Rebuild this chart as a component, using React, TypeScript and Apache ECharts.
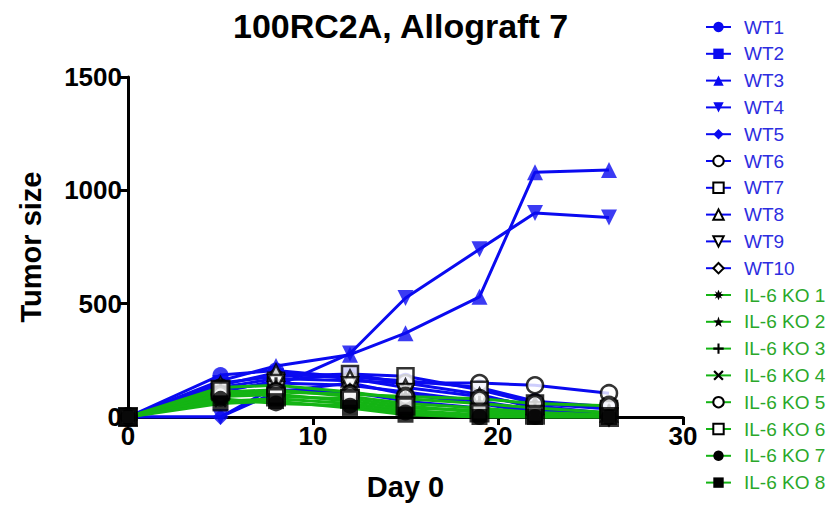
import { useEffect, useRef } from "react";
import * as echarts from "echarts";

// Measurement days
const days = [0, 5, 8, 12, 15, 19, 22, 26];

// Wild-type animals
const wt1 = [0, 185, 205, 175, 160, 130, 70, 45];
const wt2 = [0, 150, 180, 190, 150, 100, 40, 10];
const wt3 = [0, 160, 225, 275, 370, 530, 1080, 1090];
const wt4 = [0, 0, 135, 280, 525, 740, 900, 880];
const wt5 = [0, 0, 110, 150, 100, 60, 20, 0];
const wt6 = [0, 130, 170, 160, 150, 150, 140, 105];
const wt7 = [0, 110, 160, 190, 180, 120, 60, 35];
const wt8 = [0, 140, 195, 170, 130, 90, 50, 15];
const wt9 = [0, 120, 150, 140, 110, 70, 30, 0];
const wt10 = [0, 95, 120, 110, 70, 40, 10, 0];

// IL-6 knockout animals
const ko1 = [0, 110, 120, 90, 60, 40, 20, 10];
const ko2 = [0, 90, 100, 70, 40, 30, 15, 5];
const ko3 = [0, 130, 140, 110, 80, 60, 40, 20];
const ko4 = [0, 70, 80, 60, 30, 10, 0, 0];
const ko5 = [0, 100, 110, 100, 90, 80, 60, 50];
const ko6 = [0, 120, 90, 80, 50, 20, 10, 0];
const ko7 = [0, 80, 60, 50, 20, 0, 0, 0];
const ko8 = [0, 60, 70, 40, 10, 0, 0, 0];

const seriesNames = [
  "WT1", "WT2", "WT3", "WT4", "WT5", "WT6", "WT7", "WT8", "WT9", "WT10",
  "IL-6 KO 1", "IL-6 KO 2", "IL-6 KO 3", "IL-6 KO 4",
  "IL-6 KO 5", "IL-6 KO 6", "IL-6 KO 7", "IL-6 KO 8",
];
const seriesValues = [
  wt1, wt2, wt3, wt4, wt5, wt6, wt7, wt8, wt9, wt10,
  ko1, ko2, ko3, ko4, ko5, ko6, ko7, ko8,
];

const xTicks = { min: 0, max: 30, interval: 10 };
const yTicks = { min: 0, max: 1500, interval: 500 };

const BLUE = "#0a0af0";
const GREEN = "#14b414";
const BLUE_TEXT = "#2d2de0";
const GREEN_TEXT = "#2aa82a";
const FONT = 'Arial, "Liberation Sans", sans-serif';

const STAR8 =
  "path://M5,0 L6.2,2.8 L8.5,1.5 L7.2,3.8 L10,5 L7.2,6.2 L8.5,8.5 L6.2,7.2 L5,10 L3.8,7.2 L1.5,8.5 L2.8,6.2 L0,5 L2.8,3.8 L1.5,1.5 L3.8,2.8 Z";
const STAR5 =
  "path://M5,0 L6.2,3.5 L10,3.8 L7,6.2 L8.1,10 L5,7.8 L1.9,10 L3,6.2 L0,3.8 L3.8,3.5 Z";
const PLUS =
  "path://M4,0 L6,0 L6,4 L10,4 L10,6 L6,6 L6,10 L4,10 L4,6 L0,6 L0,4 L4,4 Z";
const CROSS =
  "path://M1.5,0 L5,3.5 L8.5,0 L10,1.5 L6.5,5 L10,8.5 L8.5,10 L5,6.5 L1.5,10 L0,8.5 L3.5,5 L0,1.5 Z";

type Marker = {
  symbol: string;
  rotate?: number;
  fill: string;
  border?: string;
  borderWidth?: number;
  size?: number;
};

const filledBlue = (symbol: string, rotate = 0): Marker => ({ symbol, rotate, fill: BLUE });
const open = (symbol: string, rotate = 0, bw = 2.5): Marker => ({
  symbol, rotate, fill: "#ffffff", border: "#000000", borderWidth: bw,
});
const solid = (symbol: string, size?: number): Marker => ({ symbol, fill: "#000000", size });

const markers: Marker[] = [
  filledBlue("circle"),
  filledBlue("rect"),
  filledBlue("triangle"),
  filledBlue("triangle", 180),
  filledBlue("diamond"),
  open("circle"),
  open("rect"),
  open("triangle"),
  open("triangle", 180),
  open("diamond"),
  solid(STAR8),
  solid(STAR5, 12),
  solid(PLUS),
  solid(CROSS, 13),
  open("circle", 0, 4),
  open("rect", 0, 4),
  solid("circle"),
  solid("rect"),
];

export default function App() {
  const ref = useRef<HTMLDivElement>(null);

  useEffect(() => {
    if (!ref.current) return;
    const chart = echarts.init(ref.current, undefined, { renderer: "svg" });

    const lines: any[] = [];
    const points: any[] = [];
    seriesNames.forEach((name, i) => {
      const isWT = i < 10;
      const m = markers[i];
      const data = days.map((d, j) => [d, seriesValues[i][j]]);
      const itemStyle: any = { color: m.fill };
      if (m.border) {
        itemStyle.borderColor = m.border;
        itemStyle.borderWidth = m.borderWidth;
      }
      const size = m.size ?? 16;
      lines.push({
        type: "line",
        name,
        data,
        symbol: m.symbol,
        symbolSize: size,
        symbolRotate: m.rotate ?? 0,
        showSymbol: false,
        lineStyle: { color: isWT ? BLUE : GREEN, width: 3 },
        itemStyle,
        z: 2,
      });
      points.push({
        type: "scatter",
        name,
        data,
        symbol: m.symbol,
        symbolSize: size,
        symbolRotate: m.rotate ?? 0,
        itemStyle,
        z: 3,
      });
    });

    chart.setOption({
      animation: false,
      title: {
        text: "100RC2A, Allograft 7",
        left: 228,
        top: 4,
        textStyle: { fontFamily: FONT, fontSize: 34, fontWeight: "bold", color: "#000" },
      },
      legend: {
        orient: "vertical",
        left: 705,
        top: 17,
        padding: 0,
        itemWidth: 25,
        itemHeight: 13,
        itemGap: 6.8,
        selectedMode: false,
        textStyle: { fontFamily: FONT, fontSize: 19, lineHeight: 20, padding: [0, 0, 0, 8] },
        data: seriesNames.map((name, i) => ({
          name,
          textStyle: { color: i < 10 ? BLUE_TEXT : GREEN_TEXT },
        })),
      },
      grid: { left: 128, right: 149, top: 77, bottom: 83, containLabel: false },
      xAxis: {
        type: "value",
        ...xTicks,
        name: "Day 0",
        nameLocation: "middle",
        nameGap: 55,
        nameTextStyle: { fontFamily: FONT, fontSize: 29, fontWeight: "bold", color: "#000" },
        splitLine: { show: false },
        axisLine: { show: true, onZero: false, lineStyle: { color: "#000", width: 3 } },
        axisTick: { show: true, length: 8, lineStyle: { color: "#000", width: 3 } },
        axisLabel: {
          fontFamily: FONT, fontSize: 26, fontWeight: "bold", color: "#000", margin: 6,
          formatter: (v: number) => String(v),
        },
      },
      yAxis: {
        type: "value",
        ...yTicks,
        name: "Tumor size",
        nameLocation: "middle",
        nameGap: 83,
        nameTextStyle: { fontFamily: FONT, fontSize: 29, fontWeight: "bold", color: "#000" },
        splitLine: { show: false },
        axisLine: { show: true, lineStyle: { color: "#000", width: 3 } },
        axisTick: { show: true, length: 8, lineStyle: { color: "#000", width: 3 } },
        axisLabel: {
          fontFamily: FONT, fontSize: 26, fontWeight: "bold", color: "#000", margin: 6,
          formatter: (v: number) => String(v),
        },
      },
      series: [...lines, ...points],
    });

    return () => chart.dispose();
  }, []);

  return (
    <div
      ref={ref}
      style={{ position: "fixed", left: 0, top: 0, width: 832, height: 506, background: "#fff" }}
    />
  );
}
